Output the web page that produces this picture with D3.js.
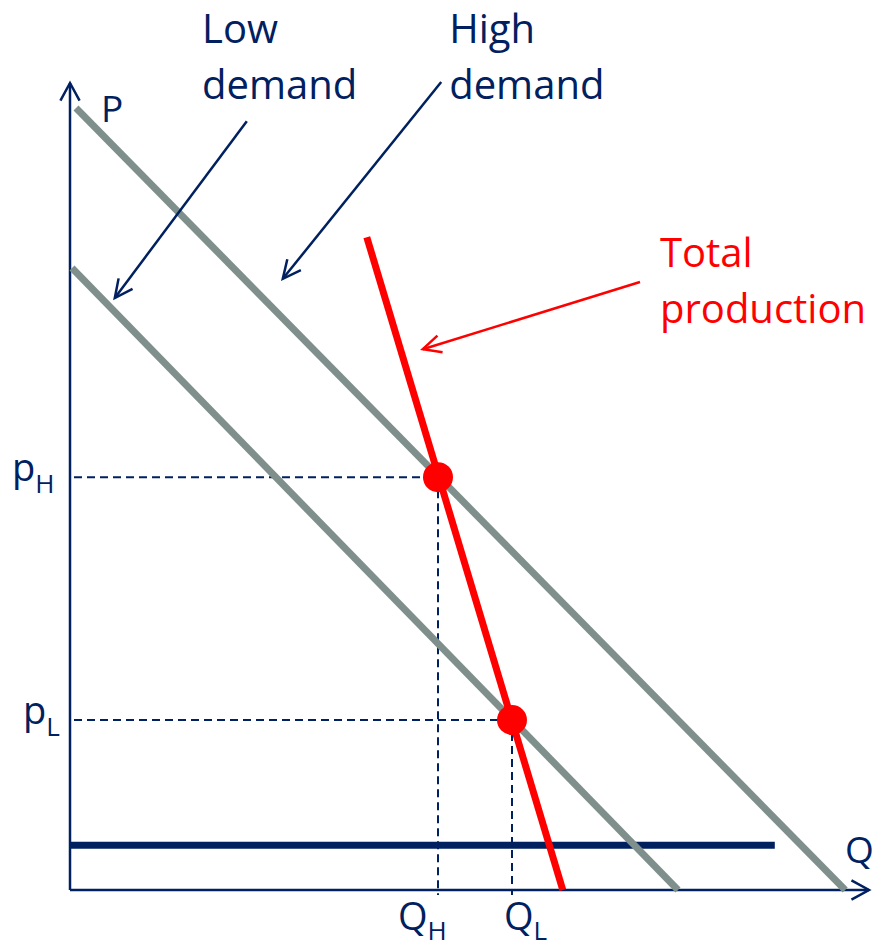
<!DOCTYPE html>
<html>
<head>
<meta charset="utf-8">
<script src="https://cdn.jsdelivr.net/npm/d3@7"></script>
<style>
  body { margin: 0; background: #fff; }
  text { font-family: "Open Sans", sans-serif; }
</style>
</head>
<body>
<div id="chart-area"></div>
<script>
// quantities / prices are in arbitrary units (0..100 on both axes)
var highDemand = [[0.75, 97.75], [96.9, 0]];
var lowDemand = [[0.25, 77.75], [76, 0]];
var totalProduction = [[37.1, 81.6], [61.6, 0]];
var floorLine = [[0, 5.6], [88.1, 5.6]];
var equilibria = [
    {name: "H", q: 46, p: 51.6},
    {name: "L", q: 55.25, p: 21.25}
];
var priceTicks = [{main: "p", sub: "H", p: 51.6}, {main: "p", sub: "L", p: 21.25}];
var qtyTicks = [{main: "Q", sub: "H", q: 46}, {main: "Q", sub: "L", q: 55.25}];
var annotations = [
    {lines: ["Low", "demand"], at: [16.5, 105.9], from: [22.1, 96.1], to: [5.6, 74.0], color: "#002060"},
    {lines: ["High", "demand"], at: [47.4, 105.9], from: [46.4, 101.0], to: [26.6, 76.4], color: "#002060"},
    {lines: ["Total", "production"], at: [73.75, 77.9], from: [71.25, 76.0], to: [44.1, 67.6], color: "#ff0000"}
];

var width = 877;
var height = 949;
var navy = "#002060";
var grey = "#7f8f8b";
var red = "#ff0000";

var svg = d3.select("#chart-area").append("svg")
    .attr("width", width)
    .attr("height", height);

var x = d3.scaleLinear().domain([0, 100]).range([70, 870]);
var y = d3.scaleLinear().domain([0, 100]).range([890, 90]);

var line = d3.line()
    .x((d) => x(d[0]))
    .y((d) => y(d[1]));

// open arrow head at (tx,ty) pointing away from (fx,fy)
function arrowHead(fx, fy, tx, ty, len, spread){
    var a = Math.atan2(ty - fy, tx - fx);
    var p1 = [tx - len * Math.cos(a - spread), ty - len * Math.sin(a - spread)];
    var p2 = [tx - len * Math.cos(a + spread), ty - len * Math.sin(a + spread)];
    return "M" + p1 + "L" + tx + "," + ty + "L" + p2;
}

// axes
var axes = svg.append("g").attr("class", "axes");
axes.append("line")
    .attr("x1", x(0)).attr("y1", y(0))
    .attr("x2", x(0)).attr("y2", 83)
    .attr("stroke", navy).attr("stroke-width", 2.5);
axes.append("path")
    .attr("d", arrowHead(x(0), y(0), x(0), 83, 20, 0.5))
    .attr("fill", "none").attr("stroke", navy).attr("stroke-width", 2.5);
axes.append("line")
    .attr("x1", x(0)).attr("y1", y(0))
    .attr("x2", 869).attr("y2", y(0))
    .attr("stroke", navy).attr("stroke-width", 2.5);
axes.append("path")
    .attr("d", arrowHead(x(0), y(0), 869, y(0), 20, 0.5))
    .attr("fill", "none").attr("stroke", navy).attr("stroke-width", 2.5);

axes.append("text")
    .attr("x", 101).attr("y", 122)
    .attr("font-size", "37px").attr("fill", navy)
    .text("P");
axes.append("text")
    .attr("x", 845).attr("y", 863)
    .attr("font-size", "37px").attr("fill", navy)
    .text("Q");

// dashed guides
var guides = svg.append("g").attr("class", "guides");
equilibria.forEach((d) => {
    guides.append("line")
        .attr("x1", x(0) + 4).attr("y1", y(d.p))
        .attr("x2", x(d.q)).attr("y2", y(d.p))
        .attr("stroke", navy).attr("stroke-width", 2)
        .attr("stroke-dasharray", "8,5");
    guides.append("line")
        .attr("x1", x(d.q)).attr("y1", y(d.p))
        .attr("x2", x(d.q)).attr("y2", y(0) + 5)
        .attr("stroke", navy).attr("stroke-width", 2)
        .attr("stroke-dasharray", "8,5");
});

// bottom horizontal line
svg.append("path")
    .attr("d", line(floorLine))
    .attr("stroke", navy).attr("stroke-width", 7)
    .attr("fill", "none");

// demand curves
svg.selectAll(".demand")
    .data([highDemand, lowDemand])
    .enter().append("path")
    .attr("class", "demand")
    .attr("d", line)
    .attr("stroke", grey).attr("stroke-width", 7)
    .attr("fill", "none");

// total production
svg.append("path")
    .attr("d", line(totalProduction))
    .attr("stroke", red).attr("stroke-width", 7)
    .attr("fill", "none");

svg.selectAll(".eq")
    .data(equilibria)
    .enter().append("circle")
    .attr("class", "eq")
    .attr("cx", (d) => x(d.q))
    .attr("cy", (d) => y(d.p))
    .attr("r", 15)
    .attr("fill", red);

// tick labels with subscripts
priceTicks.forEach((d) => {
    var t = svg.append("text")
        .attr("x", d.sub == "H" ? 12 : 23)
        .attr("y", y(d.p) + 4)
        .attr("font-size", "38px").attr("fill", navy);
    t.append("tspan").text(d.main);
    t.append("tspan").attr("dy", 12).attr("font-size", "26px").text(d.sub);
});
qtyTicks.forEach((d) => {
    var t = svg.append("text")
        .attr("x", x(d.q) - 40 + (d.sub == "L" ? 32 : 0))
        .attr("y", 930)
        .attr("font-size", "38px").attr("fill", navy);
    t.append("tspan").text(d.main);
    t.append("tspan").attr("dy", 10).attr("font-size", "26px").text(d.sub);
});

// annotations
annotations.forEach((a) => {
    var g = svg.append("g");
    a.lines.forEach((s, i) => {
        g.append("text")
            .attr("x", x(a.at[0]))
            .attr("y", y(a.at[1]) + i * 56)
            .attr("font-size", "40px").attr("fill", a.color)
            .text(s);
    });
    var fx = x(a.from[0]), fy = y(a.from[1]), tx = x(a.to[0]), ty = y(a.to[1]);
    g.append("line")
        .attr("x1", fx).attr("y1", fy)
        .attr("x2", tx).attr("y2", ty)
        .attr("stroke", a.color).attr("stroke-width", 2.5);
    g.append("path")
        .attr("d", arrowHead(fx, fy, tx, ty, 20, 0.45))
        .attr("fill", "none").attr("stroke", a.color).attr("stroke-width", 2.5);
});
</script>
</body>
</html>
